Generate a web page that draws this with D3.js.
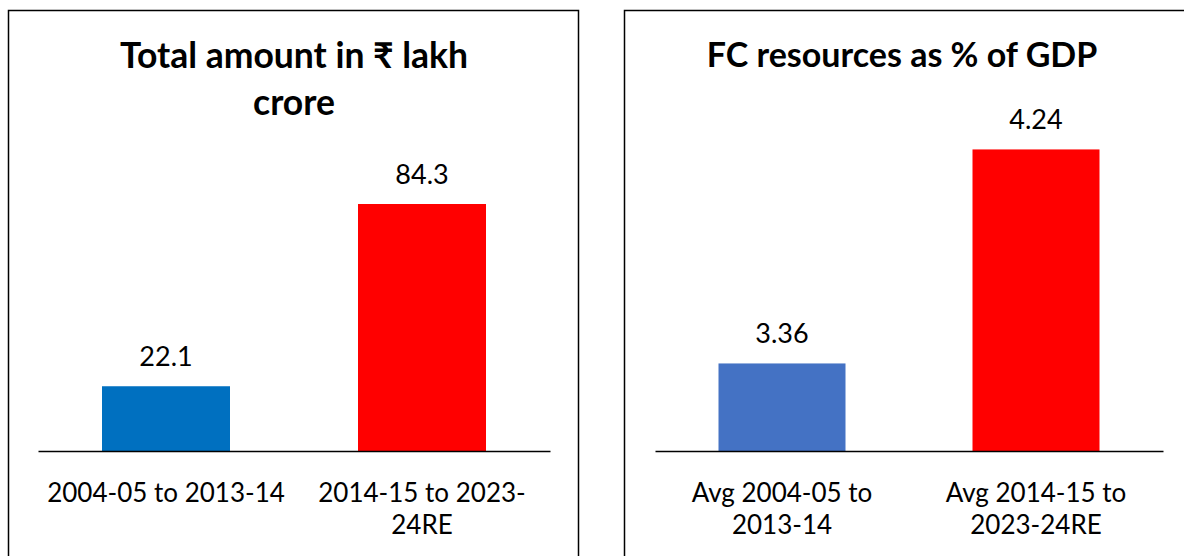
<!DOCTYPE html>
<html>
<head>
<meta charset="utf-8">
<script src="https://cdn.jsdelivr.net/npm/d3@7"></script>
<style>
  html, body { margin: 0; padding: 0; background: #fff; }
  svg { display: block; }
  text { font-family: Lato, "Noto Sans", sans-serif; fill: #000; }
</style>
</head>
<body>
<div id="chart"></div>
<script>
// left panel data
const leftTitle = ["Total amount in \u20B9 lakh", "crore"];
const leftCategories = ["2004-05 to 2013-14", "2014-15 to 2023-24RE"];
const leftTickLines = [["2004-05 to 2013-14"], ["2014-15 to 2023-", "24RE"]];
const leftValues = [22.1, 84.3];
const leftLabels = ["22.1", "84.3"];
const leftColors = ["#0070C0", "#FF0000"];
const leftDomain = [0, 90];

// right panel data
const rightTitle = ["FC resources as % of GDP"];
const rightCategories = ["Avg 2004-05 to 2013-14", "Avg 2014-15 to 2023-24RE"];
const rightTickLines = [["Avg 2004-05 to", "2013-14"], ["Avg 2014-15 to", "2023-24RE"]];
const rightValues = [3.36, 4.24];
const rightLabels = ["3.36", "4.24"];
const rightColors = ["#4472C4", "#FF0000"];
const rightDomain = [3, 4.5];

const W = 1184, H = 556;
const svg = d3.select("#chart").append("svg").attr("width", W).attr("height", H);

function drawPanel(cfg) {
    const { frame, plot, title, titleX, titleY, titleSize, categories, tickLines, values, labels, colors, domain } = cfg;

    // frame
    svg.append("rect")
        .attr("x", frame.x).attr("y", frame.y)
        .attr("width", frame.w).attr("height", frame.h)
        .attr("fill", "none").attr("stroke", "#000").attr("stroke-width", 1.5);

    const g = svg.append("g");

    const xScale = d3.scaleBand()
        .domain(categories)
        .range([plot.x0, plot.x1])
        .paddingInner(0.5).paddingOuter(0.25);

    const yScale = d3.scaleLinear()
        .domain(domain)
        .range([plot.yBase, plot.yTop]);

    // bars
    g.selectAll("rect.bar").data(values)
        .join("rect")
        .attr("class", "bar")
        .attr("x", (d, i) => xScale(categories[i]))
        .attr("y", d => yScale(d))
        .attr("width", xScale.bandwidth())
        .attr("height", d => yScale(domain[0]) - yScale(d))
        .attr("fill", (d, i) => colors[i]);

    // value labels
    g.selectAll("text.val").data(values)
        .join("text")
        .attr("class", "val")
        .attr("x", (d, i) => xScale(categories[i]) + xScale.bandwidth() / 2)
        .attr("y", d => yScale(d) - 20)
        .attr("text-anchor", "middle")
        .style("font-size", "27px")
        .text((d, i) => labels[i]);

    // axis
    const xAxis = g.append("g")
        .attr("transform", `translate(0,${plot.yBase})`)
        .call(d3.axisBottom(xScale).tickSize(0).tickSizeOuter(0).tickFormat(""));
    xAxis.select(".domain").attr("stroke", "#000").attr("stroke-width", 1.5);
    xAxis.selectAll(".tick text").remove();

    xAxis.selectAll(".tick").each(function (d, i) {
        const t = d3.select(this).append("text")
            .attr("text-anchor", "middle")
            .style("font-size", "26px");
        tickLines[i].forEach((line, j) => {
            t.append("tspan").attr("x", 0).attr("y", 51 + j * 32).text(line);
        });
    });

    // title
    const tt = svg.append("text")
        .attr("text-anchor", "middle")
        .style("font-size", `${titleSize}px`).style("font-weight", "bold");
    title.forEach((line, j) => {
        tt.append("tspan").attr("x", titleX).attr("y", titleY + j * 47).text(line);
    });
}

drawPanel({
    frame: { x: 8.5, y: 10.5, w: 570, h: 560 },
    plot: { x0: 38, x1: 550, yBase: 451, yTop: 187.3 },
    title: leftTitle, titleX: 294, titleY: 68, titleSize: 35.5,
    categories: leftCategories, tickLines: leftTickLines,
    values: leftValues, labels: leftLabels, colors: leftColors, domain: leftDomain
});

drawPanel({
    frame: { x: 624.5, y: 10.5, w: 600, h: 560 },
    plot: { x0: 655, x1: 1163, yBase: 451, yTop: 86.2 },
    title: rightTitle, titleX: 902, titleY: 67, titleSize: 34,
    categories: rightCategories, tickLines: rightTickLines,
    values: rightValues, labels: rightLabels, colors: rightColors, domain: rightDomain
});
</script>
</body>
</html>
